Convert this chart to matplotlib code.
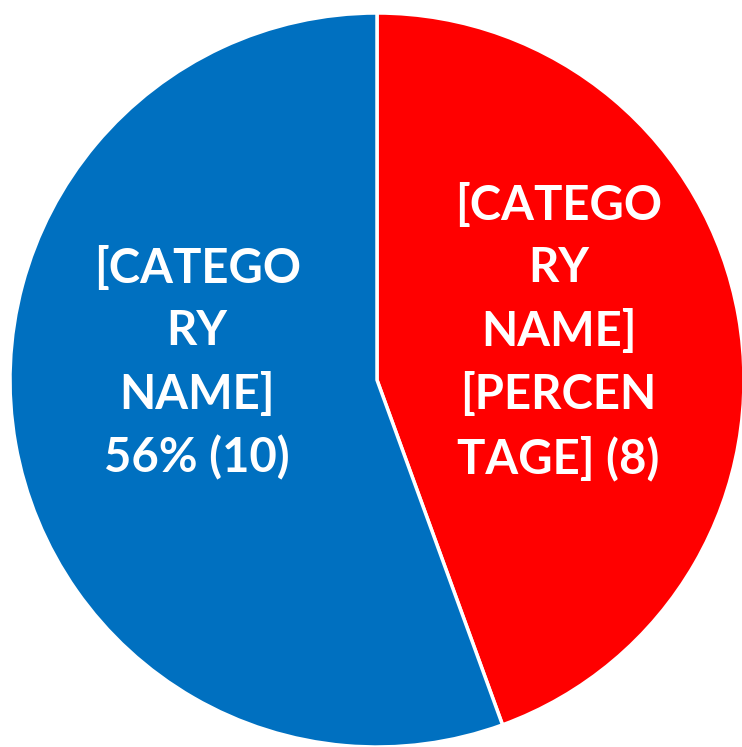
import matplotlib.pyplot as plt

# pie data
values = [8, 10]
colors = ['#FF0000', '#0070C0']
labels = ['[CATEGO\nRY\nNAME]\n[PERCEN\nTAGE] (8)',
          '[CATEGO\nRY\nNAME]\n56% (10)']
label_pos = [(0.495, 0.13), (-0.49, 0.045)]

fig = plt.figure(figsize=(7.42, 7.47), dpi=100)
ax = fig.add_axes([10 / 742, 0, 734 / 742, 734 / 747])

wedges, _ = ax.pie(values, colors=colors, startangle=90, counterclock=False,
                   wedgeprops=dict(edgecolor='white', linewidth=2.5))

for lab, (x, y) in zip(labels, label_pos):
    ax.text(x, y, lab, ha='center', va='center', color='white',
            fontsize=34, fontweight='bold', family='Lato', linespacing=1.5)

ax.set_xlim(-1, 1)
ax.set_ylim(-1, 1)
ax.set_aspect('equal')
ax.axis('off')

plt.savefig('out.png', dpi=100)
